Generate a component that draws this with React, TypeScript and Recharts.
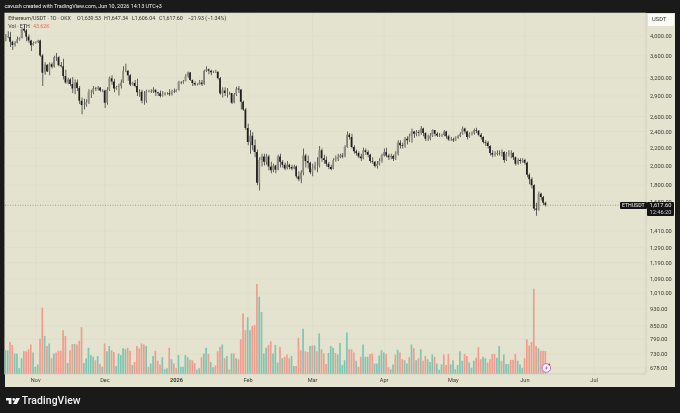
import React from "react";
import { ComposedChart, Bar, Cell, XAxis, YAxis, CartesianGrid, ReferenceLine } from "recharts";

const opens = [3960,3985,3980,3880,3810,3860,3930,3955,4155,4120,
3985,3905,3805,3850,3875,3905,3605,3285,3430,3310,
3440,3395,3575,3570,3420,3400,3230,3120,3170,3095,
3020,3120,3030,2830,2765,2770,2805,2960,2960,3025,
3015,3035,2990,2990,2800,3000,3190,3135,3020,3045,
3060,3120,3320,3320,3240,3085,3110,3060,2960,2970,
2830,2830,2975,2980,2975,3000,2960,2945,2900,2925,
2945,2945,2930,2970,2965,3000,3125,3120,3140,3225,
3290,3160,3110,3085,3085,3120,3090,3320,3350,3320,
3295,3305,3305,3190,2940,2990,2950,2950,2950,2800,
2930,3020,3005,2815,2700,2445,2270,2345,2230,2150,
1825,2060,2100,2040,2100,1990,1950,2000,1955,2100,
2040,2010,1970,2010,1985,1970,1990,1890,1860,1925,
2110,2050,2030,1930,1970,2000,2000,2170,2080,2060,
2020,1985,1965,2060,2075,2090,2110,2100,2210,2360,
2330,2210,2160,2140,2100,2080,2170,2150,2120,2050,
2040,1995,2020,2050,2110,2150,2110,2090,2105,2075,
2130,2260,2230,2220,2310,2290,2340,2400,2370,2390,
2380,2440,2380,2310,2310,2350,2420,2370,2350,2350,
2355,2400,2340,2300,2300,2290,2320,2340,2370,2440,
2400,2330,2370,2375,2420,2410,2360,2330,2270,2260,
2220,2140,2120,2130,2140,2135,2150,2060,2130,2130,
2140,2090,2020,2060,2050,2060,2030,1905,1860,1800,
1590,1580,1720,1690,1639.53];

const closes = [3985,3980,3880,3810,3860,3930,3955,4155,4120,3985,
3905,3805,3850,3875,3905,3605,3285,3430,3310,3440,
3395,3575,3570,3420,3400,3230,3120,3170,3095,3020,
3120,3030,2830,2765,2770,2805,2960,2960,3025,3015,
3035,2990,2990,2800,3000,3190,3135,3020,3045,3060,
3120,3320,3320,3240,3085,3110,3060,2960,2970,2830,
2830,2975,2980,2975,3000,2960,2945,2900,2925,2945,
2945,2930,2970,2965,3000,3125,3120,3140,3225,3290,
3160,3110,3085,3085,3120,3090,3320,3350,3320,3295,
3305,3305,3190,2940,2990,2950,2950,2950,2800,2930,
3020,3005,2815,2700,2445,2270,2345,2230,2150,1825,
2060,2100,2040,2100,1990,1950,2000,1955,2100,2040,
2010,1970,2010,1985,1970,1990,1890,1860,1925,2110,
2050,2030,1930,1970,2000,2000,2170,2080,2060,2020,
1985,1965,2060,2075,2090,2110,2100,2210,2360,2330,
2210,2160,2140,2100,2080,2170,2150,2120,2050,2040,
1995,2020,2050,2110,2150,2110,2090,2105,2075,2130,
2260,2230,2220,2310,2290,2340,2400,2370,2390,2380,
2440,2380,2310,2310,2350,2420,2370,2350,2350,2355,
2400,2340,2300,2300,2290,2320,2340,2370,2440,2400,
2330,2370,2375,2420,2410,2360,2330,2270,2260,2220,
2140,2120,2130,2140,2135,2150,2060,2130,2130,2140,
2090,2020,2060,2050,2060,2030,1905,1860,1800,1590,
1580,1720,1690,1640,1617.6];

const highs = [4040,4100,4090,3900,3890,3990,3975,4170,4250,4150,
4030,3920,3885,3890,3920,3920,3630,3475,3440,3470,
3470,3600,3650,3590,3480,3540,3340,3200,3190,3210,
3170,3170,3060,2880,2860,2850,3010,3000,3060,3050,
3060,3040,3010,3000,3040,3220,3240,3180,3060,3100,
3170,3400,3450,3330,3260,3130,3160,3180,3010,3000,
2980,3000,3000,3010,3040,3010,2970,2990,2980,2960,
2960,3010,3000,3020,3010,3150,3140,3160,3260,3310,
3300,3170,3140,3105,3160,3160,3340,3400,3360,3340,
3320,3340,3310,3210,3040,3040,3030,2970,2950,2950,
3050,3060,3010,2830,2720,2500,2420,2390,2300,2180,
2090,2130,2130,2130,2120,2040,2020,2010,2120,2130,
2060,2030,2050,2020,2010,2010,2000,1940,1950,2190,
2130,2110,2040,2020,2040,2090,2220,2190,2120,2100,
2040,2010,2080,2110,2130,2130,2140,2230,2400,2380,
2370,2230,2180,2160,2130,2200,2190,2170,2130,2090,
2050,2050,2080,2130,2190,2200,2130,2130,2120,2160,
2290,2290,2260,2330,2340,2370,2440,2410,2420,2420,
2470,2450,2390,2360,2380,2430,2420,2390,2380,2370,
2420,2410,2360,2330,2320,2340,2360,2390,2465,2450,
2410,2390,2400,2440,2450,2420,2380,2340,2290,2280,
2230,2170,2160,2170,2170,2180,2160,2150,2170,2170,
2150,2100,2080,2080,2080,2075,2040,1920,1880,1810,
1640,1740,1730,1700,1647.34];

const lows = [3890,3950,3770,3710,3780,3845,3900,3945,4075,3890,
3855,3690,3800,3835,3850,3580,3060,3250,3300,3240,
3360,3380,3500,3400,3380,3170,3100,3090,3060,2950,
2930,2980,2780,2630,2700,2740,2780,2870,2930,2980,
2990,2970,2960,2720,2770,2980,3080,2960,3000,2910,
3020,3110,3300,3150,3060,3070,3040,2900,2890,2790,
2770,2800,2960,2950,2950,2900,2900,2880,2890,2910,
2920,2900,2910,2950,2960,2990,3090,3100,3140,3200,
3150,3060,3060,3070,3080,3060,3080,3300,3260,3240,
3280,3280,3170,2920,2880,2900,2880,2920,2780,2790,
2900,2950,2700,2680,2420,2230,2130,2170,2090,1800,
1750,1990,2000,2010,1950,1920,1930,1920,1950,1980,
1980,1950,1960,1960,1950,1960,1870,1840,1820,1900,
1980,1970,1910,1890,1950,1930,1980,2040,2020,1990,
1960,1950,1960,2040,2050,2080,2080,2090,2200,2300,
2190,2130,2110,2080,2050,2070,2120,2090,2030,2020,
1980,1970,2000,2030,2100,2090,2060,2070,2050,2060,
2110,2190,2190,2200,2240,2270,2260,2320,2340,2340,
2360,2340,2280,2280,2290,2330,2340,2330,2330,2330,
2340,2310,2280,2280,2270,2280,2310,2330,2360,2370,
2300,2320,2350,2360,2380,2340,2300,2250,2220,2190,
2110,2090,2100,2110,2110,2100,2030,2050,2100,2080,
2060,2000,2010,2020,2030,2010,1880,1810,1770,1570,
1530,1570,1660,1620,1606.04];

const volumes = [45,45,61,55,39,39,11,30,43,43,47,
56,41,14,18,67,126,72,53,58,30,
39,41,44,44,83,72,21,45,57,57,
56,63,89,21,30,50,36,33,26,34,
19,14,58,43,53,45,42,15,39,36,
49,47,50,44,17,23,53,49,58,56,
53,14,20,34,44,25,18,32,9,11,
50,28,20,11,36,14,14,36,32,27,
26,21,8,11,32,39,50,38,23,13,
16,43,52,56,30,
34,9,39,39,30,28,66,115,83,108,
83,91,93,171,147,118,39,50,55,62,
39,55,22,52,30,33,37,30,34,15,
15,69,45,86,43,42,53,54,54,43,
77,47,39,19,40,53,50,40,37,59,
17,26,79,47,47,41,25,14,33,56,
33,33,38,39,20,20,35,45,41,38,
13,9,18,37,46,41,28,26,20,32,
56,49,26,30,47,25,34,28,23,37,
33,20,8,18,37,17,38,18,26,
9,17,43,25,38,34,22,12,25,31,
51,28,33,30,22,28,38,38,31,53,
25,37,19,19,27,27,38,25,18,12,
30,66,54,61,162,53,49,44,44,43.62];

const volumeSides = ("GGRRGGGGRRR" + "RGGGRRGRGR" + "GRRRRRGRRG" + "RRRGGGGGRG" + "RGRGGRRGGG" +
  "GGRRGRRRRR" + "GRGGRRRGGG" + "RGRRGGGGGR" + "RRGGRGGRGG" + "RRRGR" +
  "GRGRGRRRRG" + "GRRRGGGGRR" + "GGGRGRRRGG" + "RRRGRRGRGR" + "GRRRGGGRGG" +
  "GGGRRRGRRG" + "GGRRGGGGGR" + "RGGRGRRGGR" + "GRGRGRRGGG" + "RGGGRRRGG" +
  "GGGGRRGGGR" + "RRGGRRRRGG" + "RGGGRRRGGG" + "RRRRRRGRRR");

const priceTicks = [4000,3600,3200,2900,2600,2400,2200,2000,1800,1650,1410,1290,1190,1090,1010,930,850,790,730,678];
const monthSlots = [13,43,74,105,133,164,194,225,255];
const monthLabels = ["Nov","Dec","2026","Feb","Mar","Apr","May","Jun","Jul"];
const TOTAL_SLOTS = 278;
const LAST_PRICE = 1617.6;

const BG = "#e3e3cf";
const DARK = "#1a1a1a";
const GRID = "#dcdcc7";
const AXIS_TEXT = "#3a3a36";
const RED = "#f09c8e";
const TEAL = "#7fc5b2";
const FONT = "Roboto, 'Liberation Sans', sans-serif";

const table = Array.from({ length: TOTAL_SLOTS }, (_, i) =>
  i < closes.length
    ? {
        slot: i,
        wick: [lows[i], highs[i]],
        body: [Math.min(opens[i], closes[i]), Math.max(opens[i], closes[i])],
        up: closes[i] >= opens[i],
        vol: volumes[i],
        side: volumeSides[i],
      }
    : { slot: i, wick: null, body: null, up: true, vol: null, side: "G" }
);

const MonthTick = (props: any) => {
  const { x, y, payload } = props;
  const label = monthLabels[monthSlots.indexOf(payload.value)];
  return (
    <text x={x} y={y + 8} textAnchor="middle" fontSize={5.6} fontFamily={FONT} fill={AXIS_TEXT}
      fontWeight={label === "2026" ? 700 : 400}>
      {label}
    </text>
  );
};

const abs = (s: React.CSSProperties): React.CSSProperties => ({ position: "absolute", whiteSpace: "nowrap", ...s });
const legendStyle = (left: number, top: number, color = "#333"): React.CSSProperties =>
  abs({ left, top, color, fontSize: 5.3, lineHeight: "7px" });

export default function App() {
  return (
    <div style={{ position: "fixed", left: 0, top: 0, width: 680, height: 413, background: DARK, overflow: "hidden", fontFamily: FONT, filter: "blur(0.35px)" }}>
      <div style={abs({ left: 4.5, top: 12.5, width: 670, height: 374, background: BG })} />
      <div style={abs({ left: 4.5, top: 3.2, color: "#f0f0f0", fontSize: 5.45, lineHeight: "7px" })}>
        cavush created with TradingView.com, Jun 10, 2026 14:13 UTC+3
      </div>
      <div style={abs({ left: 0, top: 0 })}>
        <ComposedChart width={680} height={413} data={table} barGap={0} barCategoryGap={0}
          margin={{ top: 13, right: 4, bottom: 27, left: 4.55 }}>
          <CartesianGrid xAxisId="main" yAxisId="price" stroke={GRID} strokeWidth={0.6} />
          <XAxis xAxisId="main" dataKey="slot" type="category" ticks={monthSlots} interval={0} height={12}
            tick={<MonthTick />} tickLine={false} tickSize={0} tickMargin={0} axisLine={{ stroke: "#cdcdb9", strokeWidth: 0.7 }} />
          <XAxis xAxisId="wick" dataKey="slot" type="category" height={0} hide />
          <XAxis xAxisId="body" dataKey="slot" type="category" height={0} hide />
          <YAxis yAxisId="price" orientation="right" scale="log" type="number" domain={[656, 4523]} allowDataOverflow
            ticks={priceTicks} interval={0} width={30} tickLine={false} tickSize={0} axisLine={{ stroke: "#cdcdb9", strokeWidth: 0.7 }}
            tickMargin={4}
            tick={{ fontSize: 5.7, fontFamily: FONT, fill: AXIS_TEXT }}
            tickFormatter={(v: number) => v.toLocaleString("en-US", { minimumFractionDigits: 2, maximumFractionDigits: 2 })} />
          <YAxis yAxisId="volume" type="number" domain={[0, 686]} allowDataOverflow hide width={0} />
          <ReferenceLine xAxisId="main" yAxisId="price" y={LAST_PRICE} stroke="#77776a" strokeWidth={0.6} strokeDasharray="1 1.5" />
          <Bar xAxisId="main" yAxisId="volume" dataKey="vol" barSize={1.7} isAnimationActive={false}>
            {table.map((d) => <Cell key={d.slot} fill={d.side === "R" ? RED : TEAL} />)}
          </Bar>
          <Bar xAxisId="wick" yAxisId="price" dataKey="wick" barSize={0.7} fill="#2a2a2a" isAnimationActive={false} />
          <Bar xAxisId="body" yAxisId="price" dataKey="body" barSize={1.6} isAnimationActive={false}>
            {table.map((d) => <Cell key={d.slot} fill={d.up ? "#8f8f84" : "#1e1e1e"} />)}
          </Bar>
        </ComposedChart>
      </div>
      <div style={legendStyle(8.3, 15.2)}>Ethereum/USDT · 1D · OKX</div>
      <div style={legendStyle(77, 15.2)}>O1,639.53</div>
      <div style={legendStyle(104, 15.2)}>H1,647.34</div>
      <div style={legendStyle(132, 15.2)}>L1,606.04</div>
      <div style={legendStyle(159, 15.2)}>C1,617.60</div>
      <div style={legendStyle(187.7, 15.2)}>−21.93 (−1.34%)</div>
      <div style={legendStyle(8.3, 23.2)}>Vol · ETH</div>
      <div style={legendStyle(33, 23.2, "#e8695f")}>43.62K</div>
      <div style={abs({ left: 648, top: 14, width: 26, height: 11.5, background: "#fbfbf6", color: "#333", fontSize: 5.8, lineHeight: "11.5px", textAlign: "left", textIndent: 4 })}>USDT</div>
      <div style={abs({ left: 620, top: 201.7, width: 26.5, height: 7.6, background: "#141414", color: "#f2f2f2", fontSize: 5.2, lineHeight: "7.6px", textAlign: "center", borderRadius: 1 })}>ETHUSDT</div>
      <div style={abs({ left: 647, top: 201.7, width: 27, height: 14, background: "#141414", color: "#f2f2f2", fontSize: 5.7, lineHeight: "7px", textAlign: "center", borderRadius: 1 })}>
        1,617.60<br /><span style={{ color: "#cfcfcf" }}>12:46:20</span>
      </div>
      <svg style={abs({ left: 540, top: 362, width: 14, height: 14 })} viewBox="0 0 14 14">
        <circle cx="6.3" cy="6" r="4.3" fill="#fbf6fb" stroke="#b266cf" strokeWidth="0.9" />
        <path d="M7 3.5 L4.9 6.4 H6.2 L5.6 8.6 L7.8 5.5 H6.5 Z" fill="#a65acb" />
        <circle cx="9.3" cy="2.4" r="1" fill="#e2354b" />
      </svg>
      <svg style={abs({ left: 5.5, top: 396.5, width: 14, height: 8 })} viewBox="0 0 36 20">
        <path d="M0 2 H14 V18 H7 V9 H0 Z" fill="#f2f2f2" />
        <circle cx="20" cy="6" r="3.4" fill="#f2f2f2" />
        <path d="M26 2 H36 L28 18 H18 Z" fill="#f2f2f2" />
      </svg>
      <div style={abs({ left: 21.7, top: 394.5, color: "#f2f2f2", fontSize: 10.4, lineHeight: "12px", fontWeight: 500, letterSpacing: 0.1 })}>TradingView</div>
    </div>
  );
}
